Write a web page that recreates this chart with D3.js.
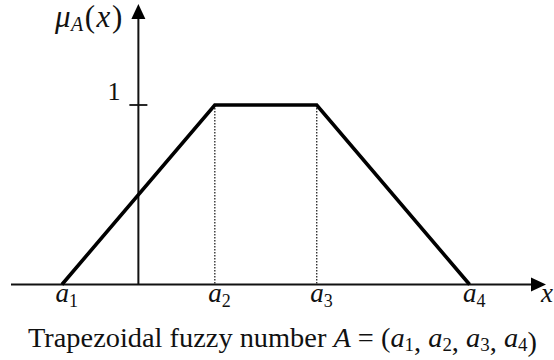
<!DOCTYPE html>
<html>
<head>
<meta charset="utf-8">
<script src="https://cdn.jsdelivr.net/npm/d3@7"></script>
<style>
  html, body { margin: 0; padding: 0; background: #fff; }
  svg { display: block; }
  text { font-family: "Liberation Serif", "Times New Roman", serif; fill: #111; }
</style>
</head>
<body>
<svg id="chart" width="554" height="360"></svg>
<script>
// ---- data ----
const pointLabels = ["1", "2", "3", "4"];        // subscripts of a_i
const pointX = [-1.5, 1.5, 3.5, 6.5];            // a1..a4 positions on x axis
const membership = [0, 1, 1, 0];                 // μ_A at a1..a4
const yTickValues = [1];
const yTickLabels = ["1"];
const xDomain = [-2.5, 8];
const yDomain = [0, 1];

const svg = d3.select("#chart");

const x = d3.scaleLinear().domain(xDomain).range([11, 546]);
const y = d3.scaleLinear().domain(yDomain).range([284.5, 105]);

const x0 = x(0);
const yTop = 4;
const xRight = x(xDomain[1]);

// x axis
svg.append("line")
  .attr("x1", x(xDomain[0])).attr("x2", xRight - 10)
  .attr("y1", y(0)).attr("y2", y(0))
  .attr("stroke", "#111").attr("stroke-width", 2);
svg.append("path")
  .attr("d", `M${xRight},${y(0)} L${xRight - 15},${y(0) - 7} L${xRight - 15},${y(0) + 7} Z`)
  .attr("fill", "#000");

// y axis
svg.append("line")
  .attr("x1", x0).attr("x2", x0)
  .attr("y1", y(0)).attr("y2", yTop + 10)
  .attr("stroke", "#111").attr("stroke-width", 2);
svg.append("path")
  .attr("d", `M${x0},${yTop} L${x0 - 7},${yTop + 15} L${x0 + 7},${yTop + 15} Z`)
  .attr("fill", "#000");

// y tick
yTickValues.forEach((v, i) => {
  svg.append("line")
    .attr("x1", x0 - 9).attr("x2", x0 + 9)
    .attr("y1", y(v)).attr("y2", y(v))
    .attr("stroke", "#111").attr("stroke-width", 1.8);
  svg.append("text")
    .attr("x", x0 - 18).attr("y", y(v) - 5)
    .attr("text-anchor", "end")
    .attr("font-size", 26)
    .text(yTickLabels[i]);
});

// dotted verticals
pointX.forEach((px, i) => {
  if (membership[i] > 0) {
    svg.append("line")
      .attr("x1", x(px)).attr("x2", x(px))
      .attr("y1", y(membership[i])).attr("y2", y(0))
      .attr("stroke", "#333").attr("stroke-width", 1.4)
      .attr("stroke-dasharray", "1.4,1.6");
  }
});

// trapezoid
const line = d3.line().x((d, i) => x(pointX[i])).y(d => y(d));
svg.append("path")
  .datum(membership)
  .attr("d", line)
  .attr("fill", "none")
  .attr("stroke", "#000")
  .attr("stroke-width", 3.6)
  .attr("stroke-linejoin", "miter");

// x labels a_i
pointX.forEach((px, i) => {
  const t = svg.append("text")
    .attr("x", x(px) - 6.5).attr("y", 302)
    .attr("font-size", 27);
  t.append("tspan").attr("font-style", "italic").text("a");
  t.append("tspan").attr("font-size", 18).attr("dy", 5).text(pointLabels[i]);
});

// x axis label
svg.append("text")
  .attr("x", 541).attr("y", 302)
  .attr("font-size", 27).attr("font-style", "italic")
  .text("x");

// y axis label μ_A(x)
{
  const t = svg.append("text").attr("x", 55).attr("y", 27).attr("font-size", 31)
    .attr("letter-spacing", 1.5);
  t.append("tspan").attr("font-style", "italic").text("μ");
  t.append("tspan").attr("font-style", "italic").attr("font-size", 20).attr("dy", 4).attr("dx", -1).text("A");
  t.append("tspan").attr("dy", -4).text("(");
  t.append("tspan").attr("font-style", "italic").text("x");
  t.append("tspan").text(")");
}

// caption
{
  const t = svg.append("text").attr("x", 28).attr("y", 347).attr("font-size", 27)
    .attr("textLength", 509).attr("lengthAdjust", "spacingAndGlyphs");
  t.append("tspan").text("Trapezoidal fuzzy number ");
  t.append("tspan").attr("font-style", "italic").text("A");
  t.append("tspan").text(" = (");
  pointLabels.forEach((s, i) => {
    t.append("tspan").attr("font-style", "italic").attr("dy", i === 0 ? 0 : -4).text("a");
    t.append("tspan").attr("font-size", 18).attr("dy", 4).text(s);
    t.append("tspan").text(i < pointLabels.length - 1 ? ", " : ")");
  });
}
</script>
</body>
</html>
